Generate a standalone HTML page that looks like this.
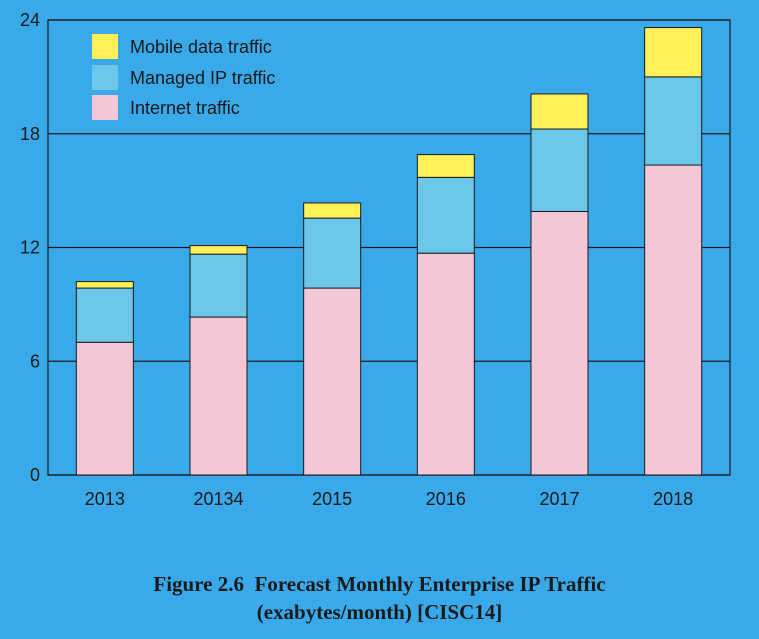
<!DOCTYPE html>
<html><head><meta charset="utf-8"><style>
body{margin:0;width:759px;height:639px;background:#3aa9ea;overflow:hidden;font-family:"Liberation Sans",sans-serif}
svg text{font-family:"Liberation Sans",sans-serif}
.cap{position:absolute;left:0;width:759px;text-align:center;font-family:"Liberation Serif",serif;font-weight:bold;font-size:21px;color:#1a1a1a;line-height:28px}
</style></head><body>
<svg id="chart" width="759" height="639" style="position:absolute;left:0;top:0"></svg>
<div class="cap" style="top:570px">Figure 2.6&nbsp; Forecast Monthly Enterprise IP Traffic<br>(exabytes/month) [CISC14]</div>
<script>
const categories=["2013","20134","2015","2016","2017","2018"];
const internet=[7.0,8.33,9.86,11.7,13.9,16.35];
const managed=[2.86,3.32,3.69,4.0,4.35,4.65];
const mobile=[0.34,0.45,0.8,1.2,1.85,2.6];
const yTicks=[0,6,12,18,24];
const NS="http://www.w3.org/2000/svg";
const svg=document.getElementById('chart');
const L=48,R=730,T=20,B=475,yMax=24;
const y=v=>B-(v/yMax)*(B-T);
const step=(R-L)/categories.length;
const bw=57;
const x=i=>L+step*i+(step-bw)/2;
function mk(tag,attrs){const e=document.createElementNS(NS,tag);for(const k in attrs)e.setAttribute(k,attrs[k]);svg.appendChild(e);return e;}
yTicks.forEach(t=>{
 const g=mk('line',{x1:L,x2:R,y1:y(t),y2:y(t),stroke:'#1a1a1a','stroke-width':1.2});
 
 
 const tx=mk('text',{x:40,y:y(t)+6,'text-anchor':'end','font-size':18,fill:'#1a1a1a'});tx.textContent=t;
 
 
});
const fr=mk('rect',{x:L,y:T,width:R-L,height:B-T,fill:'none',stroke:'#1a1a1a','stroke-width':1.2});


const series=[[internet,'#f4c7d6','internet'],[managed,'#6cc6e8','managed'],[mobile,'#fff05a','mobile']];
categories.forEach((c,i)=>{
 let base=0;
 series.forEach(([arr,col,nm])=>{
  const r=mk('rect',{x:x(i),y:y(base+arr[i]),width:bw,height:y(base)-y(base+arr[i]),fill:col,stroke:'#1a1a1a','stroke-width':1});
  
  
  base+=arr[i];
 });
 const t=mk('text',{x:x(i)+bw/2,y:B+30,'text-anchor':'middle','font-size':18,fill:'#1a1a1a'});t.textContent=c;
 
 
});
[['Mobile data traffic','#fff05a',34],['Managed IP traffic','#6cc6e8',65],['Internet traffic','#f4c7d6',95]].forEach(([lab,col,yy])=>{
 const r=mk('rect',{x:92,y:yy,width:26,height:25,fill:col});
 
 
 const t=mk('text',{x:130,y:yy+19,'font-size':18,fill:'#1a1a1a'});t.textContent=lab;
 
 
});
</script>
</body></html>
